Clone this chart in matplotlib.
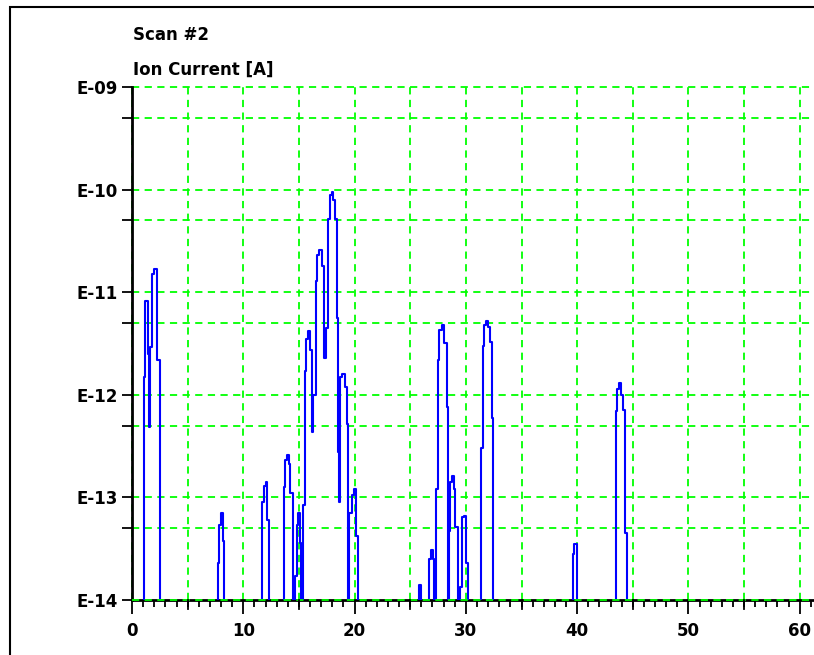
import matplotlib
matplotlib.use('Agg')
import matplotlib.pyplot as plt
from matplotlib.ticker import FixedLocator, FixedFormatter, MultipleLocator
from matplotlib.patches import Rectangle

# mass [amu] where each step starts, and ion current [A] from there on
base = 1e-15
mass = [0.0,
        1.05, 1.2, 1.41, 1.5, 1.59, 1.83, 2.0, 2.28, 2.55,
        7.7, 7.82, 7.97, 8.15, 8.3,
        11.71, 11.86, 12.01, 12.1, 12.28,
        13.63, 13.75, 13.9, 14.1, 14.23, 14.44,
        14.61, 14.79, 14.91, 15.09, 15.18, 15.39,
        15.5, 15.63, 15.78, 15.96, 16.14, 16.3,
        16.5, 16.65, 16.83, 17.04, 17.25, 17.45,
        17.64, 17.79, 17.94, 18.09, 18.24, 18.39, 18.47, 18.56,
        18.69, 18.9, 19.14, 19.29, 19.43,
        19.52, 19.74, 19.92, 20.13, 20.33,
        25.8, 25.94,
        26.71, 26.87, 27.02, 27.1,
        27.31, 27.46, 27.61, 27.83, 28.07, 28.27, 28.42,
        28.5, 28.6, 28.75, 28.92, 29.05, 29.26,
        29.47, 29.62, 29.83, 30.01, 30.16,
        31.33, 31.5, 31.66, 31.81, 31.96, 32.17, 32.32, 32.47,
        39.6, 39.74, 39.95,
        43.46, 43.6, 43.76, 43.94, 44.12, 44.29, 44.45,
        62.0]
current = [base,
           1.5e-12, 8.3e-12, 2.5e-12, 4.9e-13, 2.9e-12, 1.5e-11, 1.7e-11, 2.2e-12, base,
           2.3e-14, 5.4e-14, 7.1e-14, 3.8e-14, base,
           9.1e-14, 1.3e-13, 1.4e-13, 6.0e-14, base,
           1.26e-13, 2.3e-13, 2.6e-13, 2.1e-13, 1.1e-13, base,
           1.7e-14, 5.4e-14, 7.1e-14, 3.6e-14, base, 8.5e-14,
           1.7e-12, 3.5e-12, 4.2e-12, 2.75e-12, 4.3e-13, 1.0e-12,
           1.3e-11, 2.3e-11, 2.6e-11, 1.8e-11, 2.3e-12, 4.5e-12,
           5.2e-11, 8.9e-11, 9.5e-11, 7.9e-11, 5.2e-11, 5.6e-12, 2.8e-13, 9.0e-14,
           1.5e-12, 1.6e-12, 1.2e-12, 5.2e-13, base,
           7.1e-14, 1.05e-13, 1.2e-13, 4.2e-14, base,
           1.4e-14, base,
           2.5e-14, 3.1e-14, 2.5e-14, base,
           1.2e-13, 2.2e-12, 4.3e-12, 4.8e-12, 3.2e-12, 7.6e-13, base,
           4.7e-14, 1.4e-13, 1.6e-13, 1.2e-13, 5.1e-14, base,
           1.35e-14, 6.5e-14, 6.6e-14, 2.3e-14, base,
           3.0e-13, 3.0e-12, 4.8e-12, 5.2e-12, 4.6e-12, 3.3e-12, 5.9e-13, base,
           2.8e-14, 3.5e-14, base,
           6.9e-13, 1.15e-12, 1.3e-12, 1.0e-12, 7.1e-13, 4.5e-14, base,
           base]

y_ticks = [1e-14, 1e-13, 1e-12, 1e-11, 1e-10, 1e-9]
y_labels = ['E-14', 'E-13', 'E-12', 'E-11', 'E-10', 'E-09']
y_minor = [5e-14, 5e-13, 5e-12, 5e-11, 5e-10]

fig = plt.figure(figsize=(8.14, 6.55), dpi=100)
ax = fig.add_axes([132 / 814, 55 / 655, 682 / 814, 513 / 655])

ax.step(mass, current, where='post', color='#0000ff', lw=1.5, zorder=3)

ax.set_yscale('log')
ax.set_ylim(1e-14, 1e-9)
ax.set_xlim(0, 61.28)

ax.yaxis.set_major_locator(FixedLocator(y_ticks))
ax.yaxis.set_major_formatter(FixedFormatter(y_labels))
ax.yaxis.set_minor_locator(FixedLocator(y_minor))
ax.yaxis.set_minor_formatter(FixedFormatter([''] * len(y_minor)))

ax.xaxis.set_major_locator(MultipleLocator(10))
ax.xaxis.set_minor_locator(MultipleLocator(1))

# grid every 5 amu and at 1E / 5E per decade
for xv in range(0, 65, 5):
    ax.axvline(xv, color='#00ff00', ls=(0, (4, 3)), lw=1.3, zorder=1, clip_on=False)
for yv in y_ticks + y_minor:
    ax.axhline(yv, color='#00ff00', ls=(0, (4, 3)), lw=1.3, zorder=4 if yv == 1e-14 else 1,
               clip_on=False)
# medium ticks at the fives
for xv in range(5, 65, 10):
    ax.plot([xv, xv], [0, -0.017], transform=ax.get_xaxis_transform(),
            color='black', lw=1.3, clip_on=False, zorder=4)

ax.tick_params(axis='x', which='major', length=10, width=1.3, direction='out', pad=6)
ax.tick_params(axis='x', which='minor', length=5, width=1.3, direction='out')
ax.tick_params(axis='y', which='both', length=7, width=1.3, direction='out', pad=3)
for lab in ax.get_xticklabels() + ax.get_yticklabels():
    lab.set_fontweight('bold')
    lab.set_fontsize(12)
    lab.set_family('DejaVu Sans')

for side in ['top', 'right']:
    ax.spines[side].set_visible(False)
for side in ['left', 'bottom']:
    ax.spines[side].set_linewidth(2)
    ax.spines[side].set_zorder(2)

fig.text(133 / 814, 1 - 35 / 655, 'Scan #2', fontsize=12, fontweight='bold', va='center', ha='left')
fig.text(133 / 814, 1 - 70 / 655, 'Ion Current [A]', fontsize=12, fontweight='bold', va='center', ha='left')

# window frame, cut at right and bottom
fig.patches.append(Rectangle((10 / 814, -0.1), 1.2, 1.1 - 7 / 655, transform=fig.transFigure,
                             fill=False, edgecolor='black', lw=1.5))

fig.savefig('out.png', dpi=100)
